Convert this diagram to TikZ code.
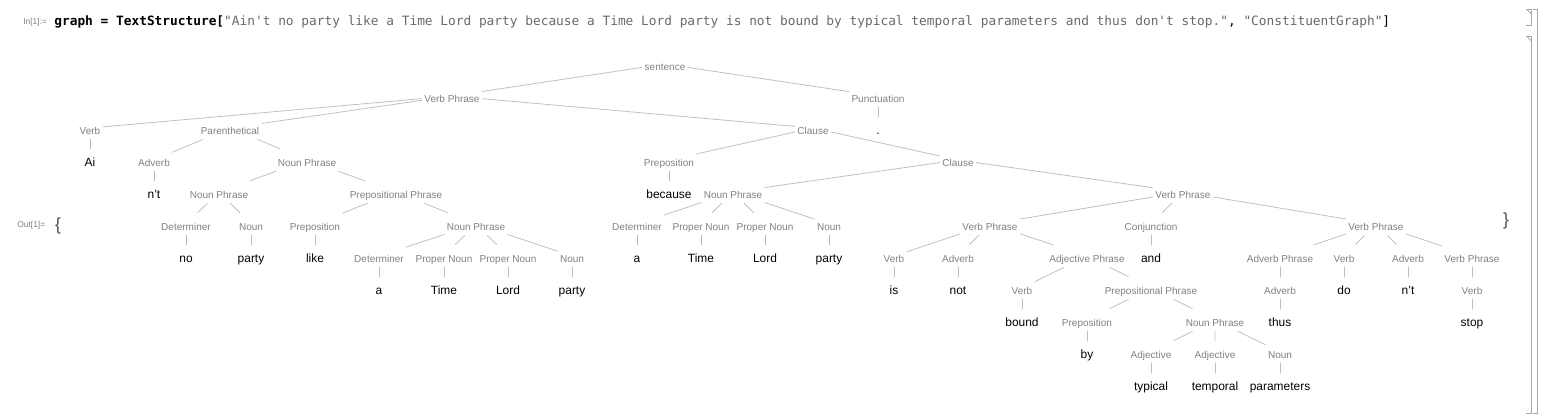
\documentclass[tikz,border=0pt]{standalone}
\usepackage{fontspec}
\setmainfont{Liberation Sans}
\newfontfamily\codefont{DejaVu Sans Mono}
\definecolor{catgray}{RGB}{128,128,128}
\definecolor{edgegray}{RGB}{192,192,192}
\definecolor{strgray}{RGB}{105,105,105}
\definecolor{brkgray}{RGB}{168,168,168}
\tikzset{
  cat/.style={text=catgray, font=\fontsize{5.7}{6.5}\selectfont,
              inner sep=1.2pt, text height=0.85em, text depth=0.15em},
  word/.style={text=black, font=\fontsize{6.8}{7.8}\selectfont,
               inner sep=1.2pt, text height=0.85em, text depth=0.15em},
  branch/.style={draw=edgegray, line width=0.45pt},
  prompt/.style={text=catgray, font=\fontsize{4.8}{5.5}\selectfont, inner sep=0pt, anchor=west},
  curly/.style={text=black!70, font=\fontsize{10}{11}\selectfont, inner sep=0pt},
  cellbracket/.style={draw=brkgray, line width=0.5pt},
}

\begin{document}
\begin{tikzpicture}[x=0.02cm, y=-0.02cm]
\useasboundingbox (0,0) rectangle (1544,418);

%% == Input cell ==============================================================
\node[prompt] (inlbl) at (23,22) {In[1]:=};
\node[anchor=west, inner sep=0pt, font=\codefont\fontsize{7.3}{8}\selectfont] (input) at (54,22)
  {\textbf{graph = TextStructure[}\textcolor{strgray}{"Ain\textquotesingle t no party like a Time Lord party because a Time Lord party is not bound by typical temporal parameters and thus don\textquotesingle t stop."}, \textcolor{strgray}{"ConstituentGraph"}]};

%% == Output cell =============================================================
\node[prompt] (outlbl) at (17,225) {Out[1]=};
\node[curly] (lbrace) at (58,226) {\{};
\node[curly] (rbrace) at (1506,221) {\}};

% cell brackets (right margin)
\draw[cellbracket] (1526,9.5) -- (1531,9.5) -- (1531,25) -- (1526,25);
\draw[cellbracket] (1527,9.5) -- (1531,13.5);
\draw[cellbracket] (1526,36.5) -- (1531,36.5) -- (1531,413) -- (1526,413);
\draw[cellbracket] (1527,36.5) -- (1531,40.5);
\draw[cellbracket] (1533,9.5) -- (1537,9.5) -- (1537,413) -- (1533,413);

%% == Top of the tree =========================================================
\node[cat]  (S)    at ( 665, 64) {sentence};
\node[cat]  (VP0)  at ( 452, 96) {Verb Phrase};
\node[cat]  (PU)   at ( 878, 96) {Punctuation};
\node[cat]  (V0)   at (  90,128) {Verb};
\node[cat]  (PAR)  at ( 230,128) {Parenthetical};
\node[cat]  (CL0)  at ( 813,128) {Clause};
\node[word] (wDot) at ( 878,128) {.};
\node[word] (wAi)  at (  90,160) {Ai};

%% == Parenthetical ===========================================================
\node[cat]  (ADV0)    at ( 154,160) {Adverb};
\node[cat]  (NP0)     at ( 307,160) {Noun Phrase};
\node[word] (wNt)     at ( 154,192) {n't};
\node[cat]  (NP1)     at ( 219,192) {Noun Phrase};
\node[cat]  (PP0)     at ( 396,192) {Prepositional Phrase};
\node[cat]  (DT1)     at ( 186,224) {Determiner};
\node[cat]  (NN1)     at ( 251,224) {Noun};
\node[cat]  (PR1)     at ( 315,224) {Preposition};
\node[cat]  (NP2)     at ( 476,224) {Noun Phrase};
\node[word] (wNo)     at ( 186,256) {no};
\node[word] (wParty1) at ( 251,256) {party};
\node[word] (wLike)   at ( 315,256) {like};
\node[cat]  (DT2)     at ( 379,256) {Determiner};
\node[cat]  (NNP2a)   at ( 444,256) {Proper Noun};
\node[cat]  (NNP2b)   at ( 508,256) {Proper Noun};
\node[cat]  (NN2)     at ( 572,256) {Noun};
\node[word] (wA2)     at ( 379,288) {a};
\node[word] (wTime2)  at ( 444,288) {Time};
\node[word] (wLord2)  at ( 508,288) {Lord};
\node[word] (wParty2) at ( 572,288) {party};

%% == Clause: because ... =====================================================
\node[cat]  (PR0)      at ( 669,160) {Preposition};
\node[cat]  (CL1)      at ( 958,160) {Clause};
\node[word] (wBecause) at ( 669,192) {because};
\node[cat]  (NP3)      at ( 733,192) {Noun Phrase};
\node[cat]  (DT3)      at ( 637,224) {Determiner};
\node[cat]  (NNP3a)    at ( 701,224) {Proper Noun};
\node[cat]  (NNP3b)    at ( 765,224) {Proper Noun};
\node[cat]  (NN3)      at ( 829,224) {Noun};
\node[word] (wA3)      at ( 637,256) {a};
\node[word] (wTime3)   at ( 701,256) {Time};
\node[word] (wLord3)   at ( 765,256) {Lord};
\node[word] (wParty3)  at ( 829,256) {party};

%% == Verb Phrase: is not bound ... and thus don't stop =======================
\node[cat]  (VP1)    at (1183,192) {Verb Phrase};
\node[cat]  (VP2)    at ( 990,224) {Verb Phrase};
\node[cat]  (CJ)     at (1151,224) {Conjunction};
\node[cat]  (VP3)    at (1376,224) {Verb Phrase};
\node[cat]  (V2)     at ( 894,256) {Verb};
\node[cat]  (ADV2)   at ( 958,256) {Adverb};
\node[cat]  (ADJP)   at (1087,256) {Adjective Phrase};
\node[word] (wAnd)   at (1151,256) {and};
\node[cat]  (ADVP)   at (1280,256) {Adverb Phrase};
\node[cat]  (V3)     at (1344,256) {Verb};
\node[cat]  (ADV3)   at (1408,256) {Adverb};
\node[cat]  (VP4)    at (1472,256) {Verb Phrase};
\node[word] (wIs)    at ( 894,288) {is};
\node[word] (wNot)   at ( 958,288) {not};
\node[cat]  (V4)     at (1022,288) {Verb};
\node[cat]  (PP1)    at (1151,288) {Prepositional Phrase};
\node[cat]  (ADV4)   at (1280,288) {Adverb};
\node[word] (wDo)    at (1344,288) {do};
\node[word] (wNt2)   at (1408,288) {n't};
\node[cat]  (V5)     at (1472,288) {Verb};
\node[word] (wBound) at (1022,320) {bound};
\node[cat]  (PR2)    at (1087,320) {Preposition};
\node[cat]  (NP4)    at (1215,320) {Noun Phrase};
\node[word] (wThus)  at (1280,320) {thus};
\node[word] (wStop)  at (1472,320) {stop};
\node[word] (wBy)    at (1087,352) {by};
\node[cat]  (JJa)    at (1151,352) {Adjective};
\node[cat]  (JJb)    at (1215,352) {Adjective};
\node[cat]  (NN4)    at (1280,352) {Noun};
\node[word] (wTypical)    at (1151,384) {typical};
\node[word] (wTemporal)   at (1215,384) {temporal};
\node[word] (wParameters) at (1280,384) {parameters};

%% == Branches ================================================================
\draw[branch] (S) -- (VP0) (S) -- (PU);
\draw[branch] (VP0) -- (V0) (VP0) -- (PAR) (VP0) -- (CL0);
\draw[branch] (PU) -- (wDot);
\draw[branch] (V0) -- (wAi);
% parenthetical
\draw[branch] (PAR) -- (ADV0) (PAR) -- (NP0);
\draw[branch] (ADV0) -- (wNt);
\draw[branch] (NP0) -- (NP1) (NP0) -- (PP0);
\draw[branch] (NP1) -- (DT1) (NP1) -- (NN1);
\draw[branch] (DT1) -- (wNo) (NN1) -- (wParty1);
\draw[branch] (PP0) -- (PR1) (PP0) -- (NP2);
\draw[branch] (PR1) -- (wLike);
\draw[branch] (NP2) -- (DT2) (NP2) -- (NNP2a) (NP2) -- (NNP2b) (NP2) -- (NN2);
\draw[branch] (DT2) -- (wA2) (NNP2a) -- (wTime2) (NNP2b) -- (wLord2) (NN2) -- (wParty2);
% clause
\draw[branch] (CL0) -- (PR0) (CL0) -- (CL1);
\draw[branch] (PR0) -- (wBecause);
\draw[branch] (CL1) -- (NP3) (CL1) -- (VP1);
\draw[branch] (NP3) -- (DT3) (NP3) -- (NNP3a) (NP3) -- (NNP3b) (NP3) -- (NN3);
\draw[branch] (DT3) -- (wA3) (NNP3a) -- (wTime3) (NNP3b) -- (wLord3) (NN3) -- (wParty3);
% verb phrase
\draw[branch] (VP1) -- (VP2) (VP1) -- (CJ) (VP1) -- (VP3);
\draw[branch] (VP2) -- (V2) (VP2) -- (ADV2) (VP2) -- (ADJP);
\draw[branch] (V2) -- (wIs) (ADV2) -- (wNot);
\draw[branch] (ADJP) -- (V4) (ADJP) -- (PP1);
\draw[branch] (V4) -- (wBound);
\draw[branch] (PP1) -- (PR2) (PP1) -- (NP4);
\draw[branch] (PR2) -- (wBy);
\draw[branch] (NP4) -- (JJa) (NP4) -- (JJb) (NP4) -- (NN4);
\draw[branch] (JJa) -- (wTypical) (JJb) -- (wTemporal) (NN4) -- (wParameters);
\draw[branch] (CJ) -- (wAnd);
\draw[branch] (VP3) -- (ADVP) (VP3) -- (V3) (VP3) -- (ADV3) (VP3) -- (VP4);
\draw[branch] (ADVP) -- (ADV4) (ADV4) -- (wThus);
\draw[branch] (V3) -- (wDo) (ADV3) -- (wNt2);
\draw[branch] (VP4) -- (V5) (V5) -- (wStop);
\end{tikzpicture}
\end{document}
